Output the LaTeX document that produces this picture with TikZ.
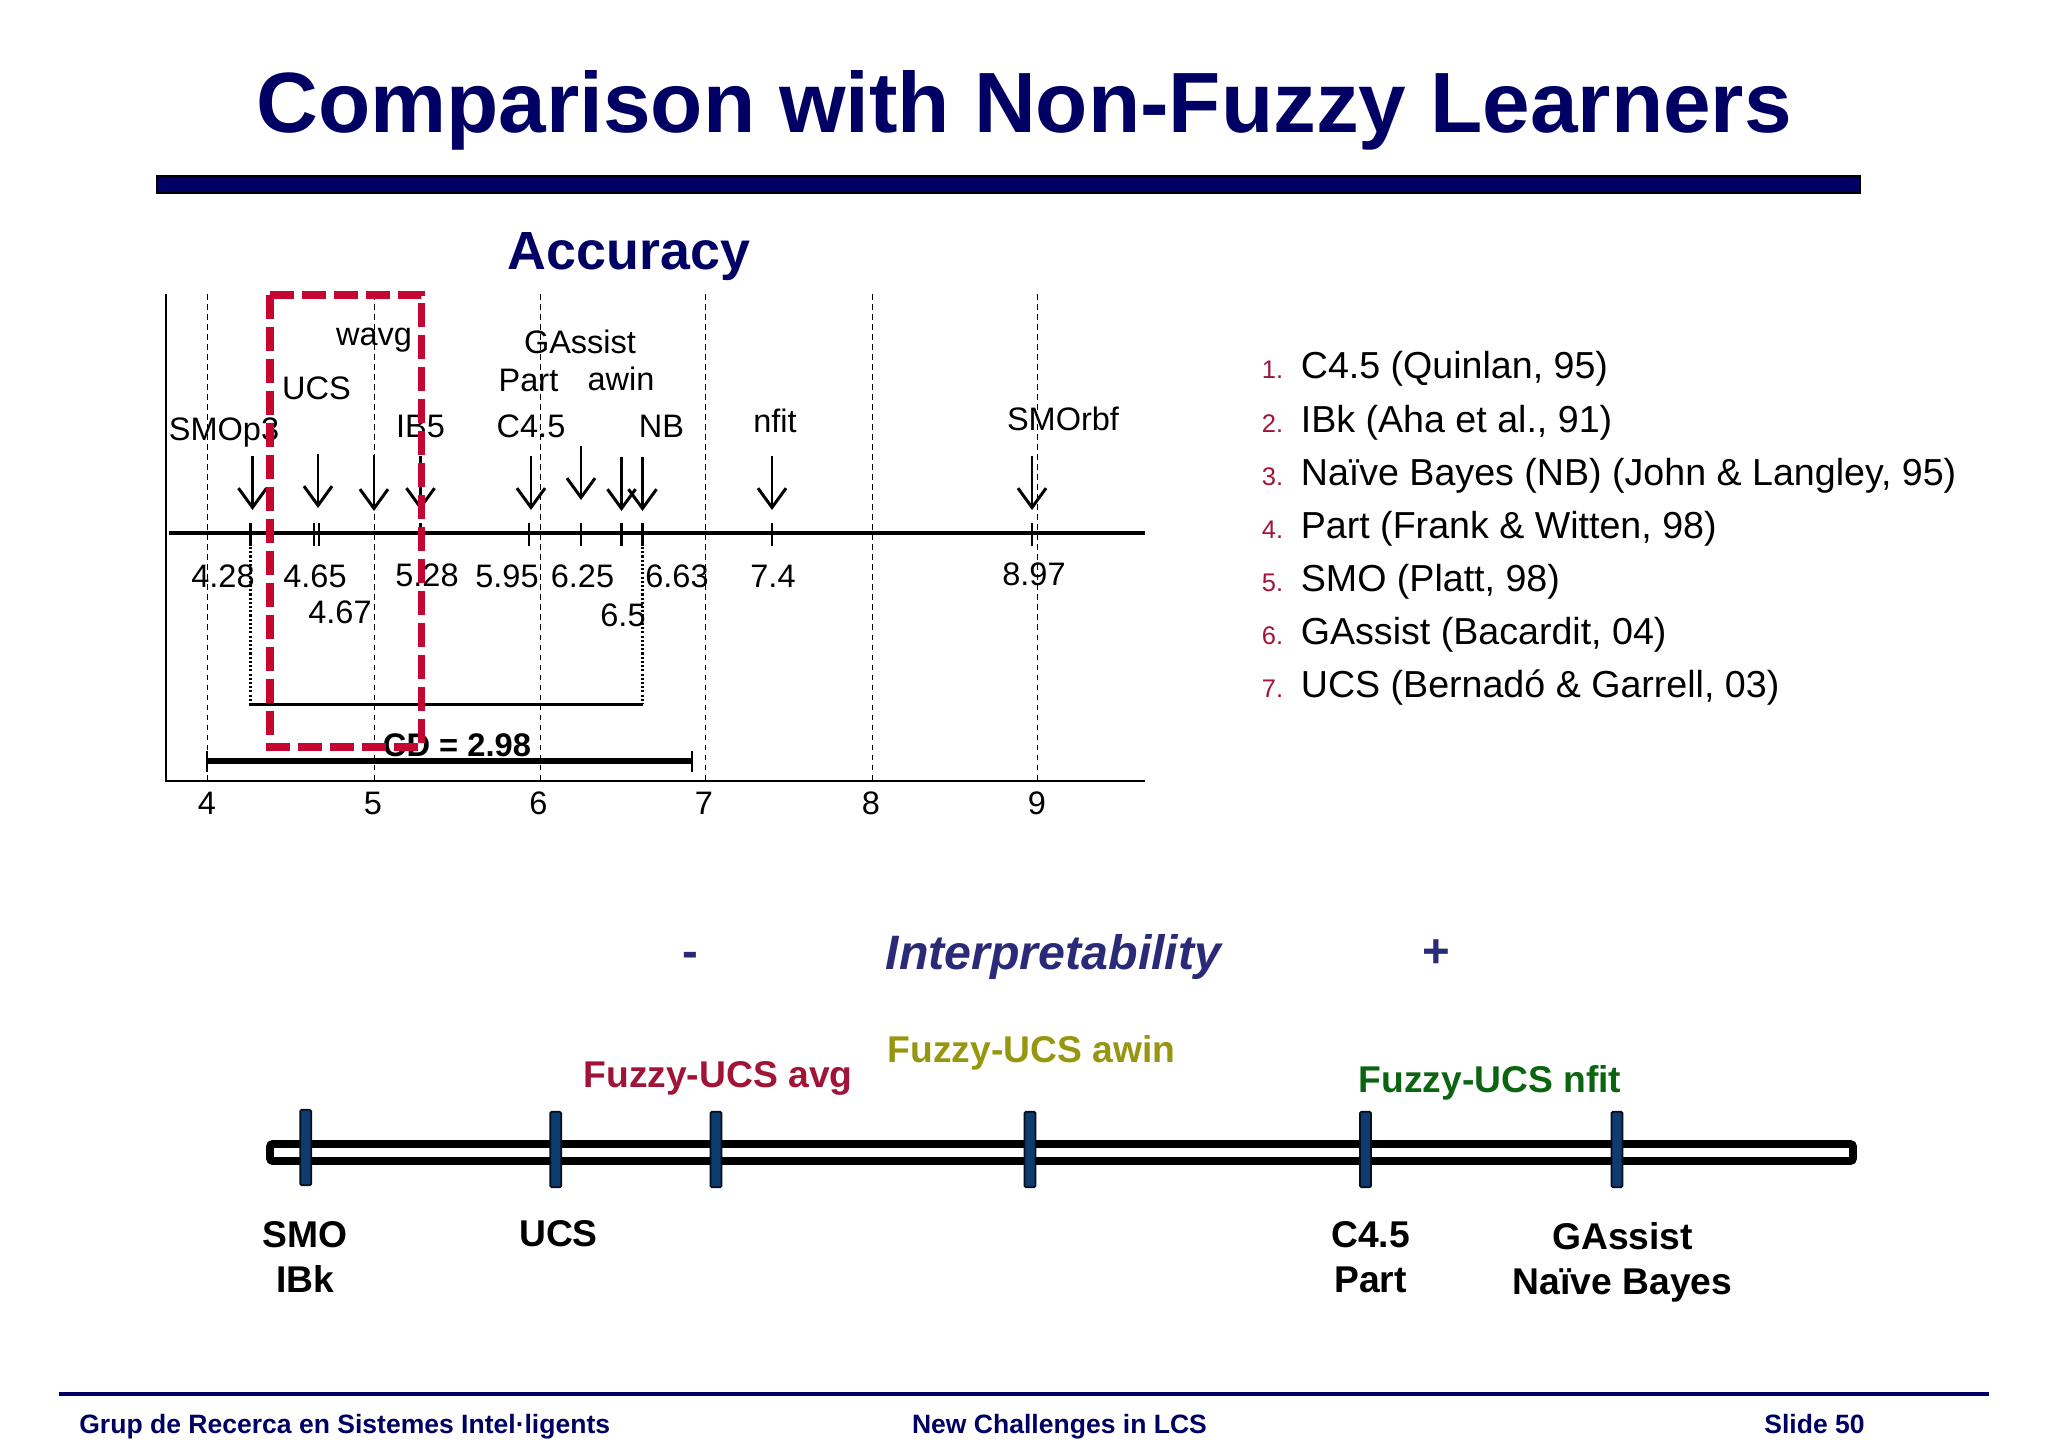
\documentclass[tikz,border=0pt]{standalone}
\usepackage{fontspec}
\setmainfont{Liberation Sans}
\usetikzlibrary{arrows.meta}
\definecolor{titleblue}{RGB}{0,0,100}
\definecolor{redbox}{RGB}{196,6,48}
\definecolor{interpblue}{RGB}{42,42,120}
\definecolor{avgred}{RGB}{160,20,56}
\definecolor{awinolive}{RGB}{150,150,16}
\definecolor{nfitgreen}{RGB}{10,100,16}
\definecolor{markblue}{RGB}{14,60,112}
\tikzset{
	x=0.02cm, y=-0.02cm,
	plotlabel/.style={inner sep=0pt, font=\fontsize{18.5pt}{21pt}\selectfont}, % text of the chart
	griddash/.style={line width=0.5pt, dash pattern=on 3.2pt off 2.5pt},
	ticks/.style={line width=1.3pt},
	pointer/.style={line width=1.5pt, -{Straight Barb[length=11pt,width=16pt,line width=1.7pt]}},
	itemnum/.style={inner sep=0pt, anchor=base east, text=avgred, font=\fontsize{14.5pt}{16pt}\selectfont},
	itemtext/.style={inner sep=0pt, anchor=base west, font=\fontsize{21.4pt}{24pt}\selectfont},
	blacklabel/.style={inner sep=0pt, align=center, font=\fontsize{21.2pt}{25.5pt}\bfseries\selectfont},
	fuzzylabel/.style={inner sep=0pt, font=\fontsize{21.2pt}{26pt}\bfseries\selectfont},
	marker/.style={draw=black!75!markblue, fill=markblue, line width=1pt, rounded corners=0.8pt, inner sep=0pt, minimum width=6.2pt, minimum height=43pt},
	footer/.style={inner sep=0pt, anchor=base, text=titleblue, font=\fontsize{15.1pt}{18pt}\bfseries\selectfont},
}
\begin{document}
\begin{tikzpicture}
	\useasboundingbox (0,0) rectangle (2048,1448);
	% title
	\node[inner sep=0pt, text=titleblue, font=\fontsize{48.7pt}{56pt}\bfseries\selectfont] (title) at (1024,110) {Comparison with Non-Fuzzy Learners};
	\coordinate (ruleL) at (157,176);
	\coordinate (ruleR) at (1860,193);
	\draw[draw=black, line width=0.7pt, fill=titleblue] (ruleL) rectangle (ruleR);
	\node[inner sep=0pt, text=titleblue, font=\fontsize{30.6pt}{36pt}\bfseries\selectfont] (accuracy) at (629,257) {Accuracy};

	% axes of the chart
	\coordinate (axisTop) at (166,294);
	\coordinate (axisO) at (166,781);
	\coordinate (axisEnd) at (1145,781);
	\draw[line width=0.8pt] (axisTop) -- (axisO) -- (axisEnd);
	\coordinate (lineL) at (169,533);
	\coordinate (lineR) at (1145,533);
	\draw[line width=1.8pt] (lineL) -- (lineR);

	\coordinate (g4) at (207,294);
	\coordinate (g5) at (374,294);
	\coordinate (g6) at (540,294);
	\coordinate (g7) at (705,294);
	\coordinate (g8) at (872,294);
	\coordinate (g9) at (1037,294);
	\draw[griddash] (g4) -- (g4 |- axisO);
	\draw[griddash] (g5) -- (g5 |- axisO);
	\draw[griddash] (g6) -- (g6 |- axisO);
	\draw[griddash] (g7) -- (g7 |- axisO);
	\draw[griddash] (g8) -- (g8 |- axisO);
	\draw[griddash] (g9) -- (g9 |- axisO);
	\node[plotlabel] (n4) at (207,803) {4};
	\node[plotlabel] (n5) at (373,803) {5};
	\node[plotlabel] (n6) at (538.5,803) {6};
	\node[plotlabel] (n7) at (704,803) {7};
	\node[plotlabel] (n8) at (871,803) {8};
	\node[plotlabel] (n9) at (1037,803) {9};

	% ticks on the rank line
	\coordinate (tickEnd) at (0,546);
	\coordinate (t1) at (250.5,523);
	\coordinate (t2) at (314,523);
	\coordinate (t3) at (319,523);
	\coordinate (t4) at (420.5,523);
	\coordinate (t5) at (529,523);
	\coordinate (t6) at (581,523);
	\coordinate (t7) at (621.5,523);
	\coordinate (t8) at (642.5,523);
	\coordinate (t9) at (772,523);
	\coordinate (t10) at (1032,523);
	\draw[ticks] (t1) -- (t1 |- tickEnd);
	\draw[ticks] (t2) -- (t2 |- tickEnd);
	\draw[ticks] (t3) -- (t3 |- tickEnd);
	\draw[ticks] (t4) -- (t4 |- tickEnd);
	\draw[ticks] (t5) -- (t5 |- tickEnd);
	\draw[ticks] (t6) -- (t6 |- tickEnd);
	\draw[ticks] (t7) -- (t7 |- tickEnd);
	\draw[ticks] (t8) -- (t8 |- tickEnd);
	\draw[ticks] (t9) -- (t9 |- tickEnd);
	\draw[ticks] (t10) -- (t10 |- tickEnd);

	% arrows
	\coordinate (a1) at (252.5,456); \coordinate (b1) at (252.5,510); \draw[pointer] (a1) -- (b1);
	\coordinate (a2) at (318,454); \coordinate (b2) at (318,508); \draw[pointer] (a2) -- (b2);
	\coordinate (a3) at (374,455); \coordinate (b3) at (374,511); \draw[pointer] (a3) -- (b3);
	\coordinate (a4) at (420.5,456); \coordinate (b4) at (420.5,510); \draw[pointer] (a4) -- (b4);
	\coordinate (a5) at (531,456); \coordinate (b5) at (531,510); \draw[pointer] (a5) -- (b5);
	\coordinate (a6) at (581,446); \coordinate (b6) at (581,500); \draw[pointer] (a6) -- (b6);
	\coordinate (a7) at (621.5,457); \coordinate (b7) at (621.5,511); \draw[pointer] (a7) -- (b7);
	\coordinate (a8) at (642.5,457); \coordinate (b8) at (642.5,511); \draw[pointer] (a8) -- (b8);
	\coordinate (a9) at (772,456); \coordinate (b9) at (772,510); \draw[pointer] (a9) -- (b9);
	\coordinate (a10) at (1032,456); \coordinate (b10) at (1032,510); \draw[pointer] (a10) -- (b10);

	% labels of the chart
	\node[plotlabel] (wavg) at (374,340.5) {wavg};
	\node[plotlabel] (ucs) at (316.5,388) {UCS};
	\node[plotlabel] (gassist) at (580,342) {GAssist};
	\node[plotlabel] (part) at (528.5,380.5) {Part};
	\node[plotlabel] (awin) at (621,378.5) {awin};
	\node[plotlabel] (smop) at (224,433) {SMOp3};
	\node[plotlabel] (ibfive) at (420.5,426.5) {IB5};
	\node[plotlabel] (cfour) at (531,426.5) {C4.5};
	\node[plotlabel] (nb) at (661.5,426.5) {NB};
	\node[plotlabel] (nfit) at (775,421) {nfit};
	\node[plotlabel] (smorbf) at (1063,419) {SMOrbf};
	\node[plotlabel] (v428) at (223,576.5) {4.28};
	\node[plotlabel] (v465) at (315,576.5) {4.65};
	\node[plotlabel] (v528) at (427,575.5) {5.28};
	\node[plotlabel] (v595) at (507,576.5) {5.95};
	\node[plotlabel] (v625) at (582.5,576.5) {6.25};
	\node[plotlabel] (v663) at (677,576.5) {6.63};
	\node[plotlabel] (v74) at (773,576.5) {7.4};
	\node[plotlabel] (v897) at (1034,574.5) {8.97};
	\node[plotlabel] (v467) at (340,612) {4.67};
	\node[plotlabel] (v65) at (623,615) {6.5};

	% critical distance and the group
	\coordinate (grpL) at (249,704);
	\coordinate (grpR) at (642.5,704);
	\draw[line width=1.7pt] (grpL) -- (grpR);
	\coordinate (dotL) at (250.5,547);
	\coordinate (dotR) at (642.5,547);
	\draw[line width=1.2pt, dash pattern=on 1.2pt off 1.2pt] (dotL) -- (dotL |- grpL);
	\draw[line width=1.2pt, dash pattern=on 1.2pt off 1.2pt] (dotR) -- (grpR);
	\coordinate (cdL) at (207,761);
	\coordinate (cdR) at (692,761);
	\coordinate (cdUp) at (0,751);
	\coordinate (cdDown) at (0,772);
	\draw[line width=3.4pt] (cdL) -- (cdR);
	\draw[line width=1.2pt] (cdL |- cdUp) -- (cdL |- cdDown);
	\draw[line width=1.2pt] (cdR |- cdUp) -- (cdR |- cdDown);
	\node[plotlabel, font=\fontsize{18.6pt}{21pt}\bfseries\selectfont] (cd) at (457,745) {CD = 2.98};

	\coordinate (boxTL) at (270,295);
	\coordinate (boxBR) at (421.5,747);
	\draw[redbox, line width=4.4pt, dash pattern=on 13.7pt off 4.5pt] (boxTL) rectangle (boxBR);

	% list of learners
	\node[itemnum] (i1) at (1283.5,378) {1.};
	\node[itemtext] (l1) at (1300.5,378) {C4.5 (Quinlan, 95)};
	\node[itemnum] (i2) at (1283.5,432) {2.};
	\node[itemtext] (l2) at (1300.5,432) {IBk (Aha et al., 91)};
	\node[itemnum] (i3) at (1283.5,485) {3.};
	\node[itemtext] (l3) at (1300.5,485) {Naïve Bayes (NB) (John \& Langley, 95)};
	\node[itemnum] (i4) at (1283.5,538) {4.};
	\node[itemtext] (l4) at (1300.5,538) {Part (Frank \& Witten, 98)};
	\node[itemnum] (i5) at (1283.5,591) {5.};
	\node[itemtext] (l5) at (1300.5,591) {SMO (Platt, 98)};
	\node[itemnum] (i6) at (1283.5,644) {6.};
	\node[itemtext] (l6) at (1300.5,644) {GAssist (Bacardit, 04)};
	\node[itemnum] (i7) at (1283.5,697) {7.};
	\node[itemtext] (l7) at (1300.5,697) {UCS (Bernadó \& Garrell, 03)};

	% interpretability scale
	\node[inner sep=0pt, text=interpblue, font=\fontsize{27.5pt}{32pt}\bfseries\itshape\selectfont] (interp) at (1053.5,957) {Interpretability};
	\node[inner sep=0pt, text=interpblue, font=\fontsize{27pt}{32pt}\bfseries\selectfont] (minus) at (690,960) {-};
	\node[inner sep=0pt, text=interpblue, font=\fontsize{27pt}{32pt}\bfseries\selectfont] (plus) at (1436,954) {+};
	\node[fuzzylabel, text=avgred] (favg) at (718,1078) {Fuzzy-UCS avg};
	\node[fuzzylabel, text=awinolive] (fawin) at (1031.5,1053) {Fuzzy-UCS awin};
	\node[fuzzylabel, text=nfitgreen] (fnfit) at (1490,1083) {Fuzzy-UCS nfit};
	\coordinate (barL) at (270,1144);
	\coordinate (barR) at (1853,1161);
	\draw[line width=4.4pt, rounded corners=1.5pt] (barL) rectangle (barR);
	\node[marker] (m1) at (305.7,1147.5) {};
	\node[marker] (m2) at (555.7,1149.5) {};
	\node[marker] (m3) at (716,1149.5) {};
	\node[marker] (m4) at (1030,1149.5) {};
	\node[marker] (m5) at (1365.5,1149.5) {};
	\node[marker] (m6) at (1617,1149.5) {};
	\node[blacklabel] (s1) at (305,1257) {SMO\\IBk};
	\node[blacklabel] (s2) at (558.5,1234) {UCS};
	\node[blacklabel] (s3) at (1370.5,1257) {C4.5\\Part};
	\node[blacklabel] (s4) at (1622.5,1262) {GAssist\\Naïve Bayes};

	% footer
	\coordinate (footL) at (59,1394);
	\coordinate (footR) at (1989,1394);
	\draw[titleblue, line width=1.8pt] (footL) -- (footR);
	\node[footer, anchor=base west] (f1) at (79,1433) {Grup de Recerca en Sistemes Intel·ligents};
	\node[footer] (f2) at (1059.5,1433) {New Challenges in LCS};
	\node[footer, anchor=base east] (f3) at (1865,1433) {Slide 50};
\end{tikzpicture}
\end{document}
